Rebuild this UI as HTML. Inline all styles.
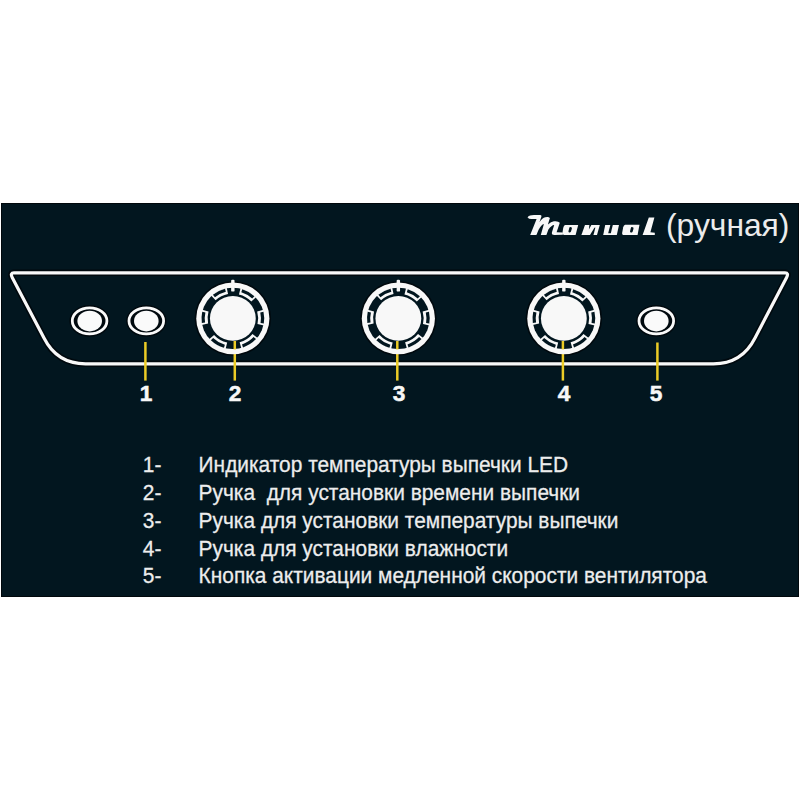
<!DOCTYPE html>
<html><head><meta charset="utf-8">
<style>
html,body{margin:0;padding:0;background:#fff;width:800px;height:800px;overflow:hidden}
#panel{position:absolute;left:1px;top:203px;width:796px;height:392px;background:#02161f;border:1px solid #01080c}
svg{position:absolute;left:0;top:0}
.t{position:absolute;font-family:"Liberation Sans",sans-serif;color:#ececec;white-space:pre;line-height:1}
.num{position:absolute;width:40px;text-align:center;font-family:"Liberation Sans",sans-serif;font-weight:bold;color:#f8f8f8;font-size:22px;line-height:1;transform:scaleX(1.03);transform-origin:50% 50%;-webkit-text-stroke:0.5px #f8f8f8}
.li{position:absolute;font-family:"Liberation Sans",sans-serif;color:#ededed;font-size:20.9px;line-height:1;white-space:pre;transform:scaleY(1.06);transform-origin:0 80%;-webkit-text-stroke:0.25px #ededed}
</style></head><body>
<div id="panel"></div>
<svg width="800" height="800" viewBox="0 0 800 800">
<defs><g id="knob">
<circle r="36.6" fill="#f8f8f8"/>
<circle r="31.35" fill="#02161f"/>
<path d="M7.73,-31.00 A31.950000000000003,31.950000000000003 0 0 1 23.37,-21.79 L18.50,-17.25 A25.3,25.3 0 0 0 6.12,-24.55 Z" fill="#f8f8f8"/>
<path d="M9.41,-29.90 A31.35,31.35 0 0 1 21.59,-22.73 L19.35,-20.37 A28.1,28.1 0 0 0 8.44,-26.80 Z" fill="#02161f"/>
<path d="M30.71,-8.81 A31.950000000000003,31.950000000000003 0 0 1 31.13,7.19 L24.65,5.69 A25.3,25.3 0 0 0 24.32,-6.97 Z" fill="#f8f8f8"/>
<path d="M30.60,-6.80 A31.35,31.35 0 0 1 30.92,5.19 L27.71,4.65 A28.1,28.1 0 0 0 27.43,-6.10 Z" fill="#02161f"/>
<path d="M24.83,20.11 A31.950000000000003,31.950000000000003 0 0 1 8.54,30.79 L6.76,24.38 A25.3,25.3 0 0 0 19.66,15.92 Z" fill="#f8f8f8"/>
<path d="M23.12,21.17 A31.35,31.35 0 0 1 10.19,29.65 L9.13,26.57 A28.1,28.1 0 0 0 20.73,18.97 Z" fill="#02161f"/>
<path d="M-7.19,31.13 A31.950000000000003,31.950000000000003 0 0 1 -23.74,21.38 L-18.80,16.93 A25.3,25.3 0 0 0 -5.69,24.65 Z" fill="#f8f8f8"/>
<path d="M-8.89,30.06 A31.35,31.35 0 0 1 -21.99,22.35 L-19.71,20.03 A28.1,28.1 0 0 0 -7.97,26.95 Z" fill="#02161f"/>
<path d="M-31.25,6.64 A31.950000000000003,31.950000000000003 0 0 1 -30.71,-8.81 L-24.32,-6.97 A25.3,25.3 0 0 0 -24.75,5.26 Z" fill="#f8f8f8"/>
<path d="M-31.00,4.65 A31.35,31.35 0 0 1 -30.60,-6.80 L-27.43,-6.10 A28.1,28.1 0 0 0 -27.79,4.17 Z" fill="#02161f"/>
<path d="M-21.79,-23.37 A31.950000000000003,31.950000000000003 0 0 1 -6.10,-31.36 L-4.83,-24.84 A25.3,25.3 0 0 0 -17.25,-18.50 Z" fill="#f8f8f8"/>
<path d="M-19.95,-24.18 A31.35,31.35 0 0 1 -7.83,-30.36 L-7.02,-27.21 A28.1,28.1 0 0 0 -17.89,-21.67 Z" fill="#02161f"/>
<rect x="-1.7" y="-39.6" width="3.4" height="12.2" rx="1.2" fill="#f8f8f8"/>
<circle r="22.9" fill="#f8f8f8"/>
</g></defs>
<path d="M14,272.85 L785,272.85 Q789,272.85 786.6,277.4 L755,338 Q742,363.8 713.4,363.8 L85.6,363.8 Q57,363.8 44,338 L12.2,277.4 Q9.9,272.85 14,272.85 Z" fill="none" stroke="#01090e" stroke-width="6.5"/>
<path d="M14,272.85 L785,272.85 Q789,272.85 786.6,277.4 L755,338 Q742,363.8 713.4,363.8 L85.6,363.8 Q57,363.8 44,338 L12.2,277.4 Q9.9,272.85 14,272.85 Z" fill="none" stroke="#f8f8f8" stroke-width="3.2"/>
<g fill="#01090e">
<ellipse cx="89.6" cy="320.9" rx="20.2" ry="15.9"/>
<ellipse cx="146.3" cy="320.9" rx="20.2" ry="15.9"/>
<ellipse cx="656.3" cy="320.9" rx="20.2" ry="15.9"/>
<ellipse cx="232.85" cy="318.4" rx="38.2" ry="37.4"/>
<ellipse cx="398.35" cy="318.4" rx="38.2" ry="37.4"/>
<ellipse cx="563.85" cy="318.4" rx="38.2" ry="37.4"/>
</g>
<g fill="none" stroke="#fafafa" stroke-width="2.8">
<ellipse cx="89.6" cy="320.9" rx="17.3" ry="13.0"/>
<ellipse cx="146.3" cy="320.9" rx="17.3" ry="13.0"/>
<ellipse cx="656.3" cy="320.9" rx="17.3" ry="13.0"/>
</g>
<g fill="#fafafa">
<ellipse cx="89.7" cy="321.05" rx="12.3" ry="10.35"/>
<ellipse cx="146.3" cy="321.05" rx="12.3" ry="10.35"/>
<ellipse cx="656.3" cy="321.05" rx="12.3" ry="10.35"/>
</g>
<g stroke="#eccc26" stroke-width="2.5">
<line x1="145.4" y1="342" x2="145.4" y2="380.6"/>
<line x1="234.8" y1="341" x2="234.8" y2="380.6"/>
<line x1="397.3" y1="341" x2="397.3" y2="380.6"/>
<line x1="562.9" y1="341" x2="562.9" y2="380.6"/>
<line x1="657.4" y1="342.5" x2="657.4" y2="380.6"/>
</g>
<g id="manual" fill="#f8f8f8">
<path d="M527.5,217.25 C528.5,215.6 531,215 534,214.95 L540.3,215.1 Q541.9,215.4 541.4,216.8 L539.4,222.2 Q542.4,217.8 545.2,217.3 Q548.4,216.4 549.9,217.9 L547.9,224.6 Q551.1,221.5 553.9,221.3 Q558.2,220.8 559.8,222.7 L556.6,232.3 L562.9,232.6 L562.9,234.8 L554.4,235.0 Q551.4,235.0 551.9,232.5 L554.2,225.0 Q551.8,224.8 548.4,229.6 L546.4,235.0 L540.8,235.0 L543.9,224.0 Q541.4,224.6 538.6,229.8 L536.4,235.0 L530.2,235.0 L536.6,219.1 L531.5,219.1 Q528.6,219.1 527.5,217.25 Z"/>
<path d="M565.2,224.9 L578.2,224.9 L575.6,235.1 L565,235.1 Q562.2,235.1 562.6,232 L563.2,228 Q563.8,224.9 565.2,224.9 Z"/>
<path d="M585.0,224.9 L599.8,224.9 L597.0,235.1 L581.4,235.1 Z"/>
<path d="M605.2,224.9 L619.0,224.9 L616.8,235.1 L603.2,235.1 Z"/>
<path d="M625.2,224.7 L639.5,224.7 L637.6,235.0 L624,235.0 Q621.8,235.0 622.2,232.4 L623.2,227.3 Q623.8,224.7 625.2,224.7 Z"/>
<path d="M648.8,217.6 L654.4,217.6 L650.4,232.3 L654.8,232.7 L654.8,235.0 L642.6,235.0 Z"/>
<g fill="#02161f">
<path d="M570.1,227.0 Q572.4,226.9 571.9,228.6 L571.0,231.6 Q570.5,232.6 569.2,232.5 Q568.1,232.3 568.5,231.0 L569.2,228.2 Q569.5,227.0 570.1,227.0 Z"/>
<path d="M589.4,235.9 L593.2,235.9 L595.4,227.6 L594.4,227.8 Z"/><path d="M589.4,224.4 L591.6,224.4 L588.9,229.6 Z"/>
<path d="M610.5,224.3 L613.0,224.3 L610.8,233.2 L608.2,233.2 Z"/>
<path d="M631.7,227.1 Q634.0,227.0 633.5,228.7 L632.6,231.7 Q632.1,232.7 630.8,232.6 Q629.7,232.4 630.1,231.1 L630.8,228.3 Q631.1,227.1 631.7,227.1 Z"/>
</g>
</g>
<use href="#knob" transform="translate(232.85,318.4) scale(1,0.978)"/>
<use href="#knob" transform="translate(398.35,318.4) scale(1,0.978)"/>
<use href="#knob" transform="translate(563.85,318.4) scale(1,0.978)"/>
<g stroke="#eccc26" stroke-width="2.5">
<line x1="234.8" y1="341" x2="234.8" y2="349.4"/>
<line x1="397.3" y1="341" x2="397.3" y2="349.4"/>
<line x1="562.9" y1="341" x2="562.9" y2="349.4"/>
</g>
</svg>
<div class="num" style="left:125.60px;top:382.5px">1</div>
<div class="num" style="left:215.10px;top:382.5px">2</div>
<div class="num" style="left:378.60px;top:382.5px">3</div>
<div class="num" style="left:543.75px;top:382.5px">4</div>
<div class="num" style="left:636.35px;top:382.5px">5</div>
<div class="t" id="ru" style="left:666px;top:209.5px;font-size:31.8px">(ручная)</div>
<div class="li" style="left:142.8px;top:455.00px">1-</div>
<div class="li" style="left:198.6px;top:455.00px">Индикатор температуры выпечки LED</div>
<div class="li" style="left:142.8px;top:482.84px">2-</div>
<div class="li" style="left:198.6px;top:482.84px">Ручка  для установки времени выпечки</div>
<div class="li" style="left:142.8px;top:510.68px">3-</div>
<div class="li" style="left:198.6px;top:510.68px">Ручка для установки температуры выпечки</div>
<div class="li" style="left:142.8px;top:538.52px">4-</div>
<div class="li" style="left:198.6px;top:538.52px">Ручка для установки влажности</div>
<div class="li" style="left:142.8px;top:566.36px">5-</div>
<div class="li" style="left:198.6px;top:566.36px">Кнопка активации медленной скорости вентилятора</div>
</body></html>
